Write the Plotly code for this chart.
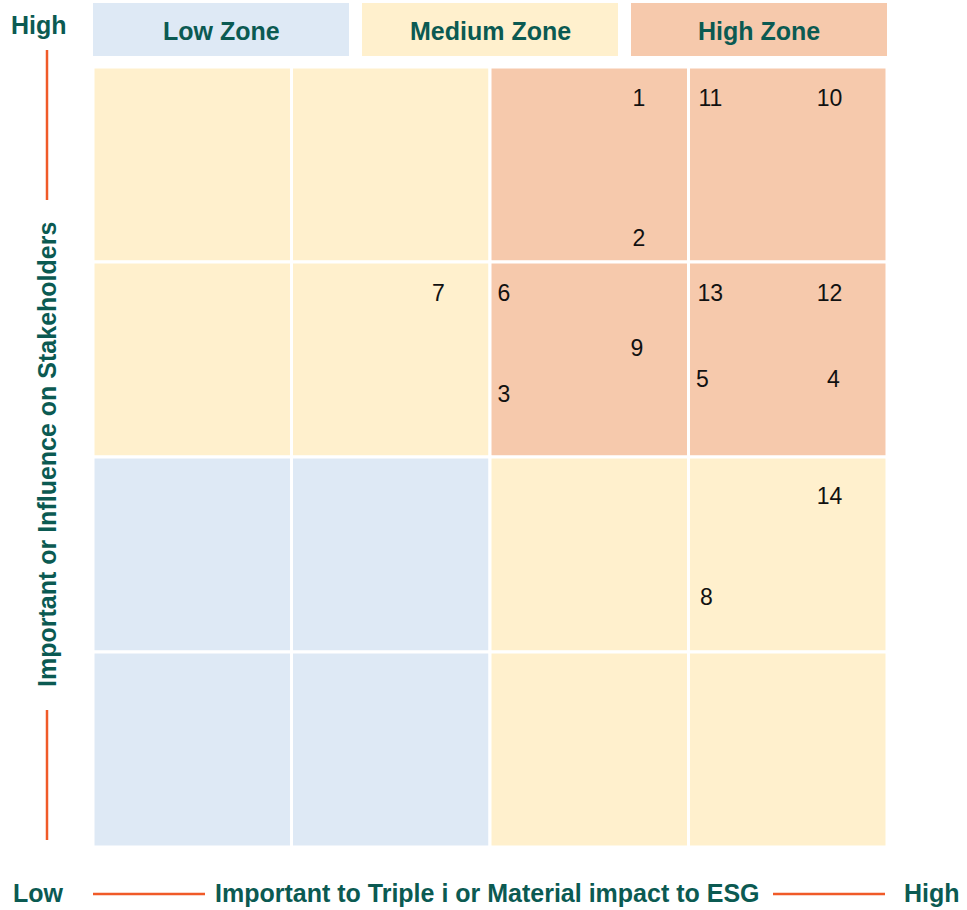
import plotly.graph_objects as go

# ---- data ----
issue_ids = ["1", "2", "3", "4", "5", "6", "7", "8", "9", "10", "11", "12", "13", "14"]
impact_x = [2.75, 2.75, 2.07, 3.73, 3.07, 2.07, 1.74, 3.09, 2.74, 3.71, 3.11, 3.71, 3.11, 3.71]
influence_y = [3.83, 3.11, 2.31, 2.39, 2.39, 2.83, 2.83, 1.27, 2.55, 3.83, 3.83, 2.83, 2.83, 1.79]

# zone grid, rows from top to bottom, columns left to right
zone_grid = [
    ["Medium", "Medium", "High", "High"],
    ["Medium", "Medium", "High", "High"],
    ["Low", "Low", "Medium", "Medium"],
    ["Low", "Low", "Medium", "Medium"],
]
zone_names = ["Low", "Medium", "High"]
zone_labels = ["Low Zone", "Medium Zone", "High Zone"]
zone_colors = {"Low": "#DEE9F5", "Medium": "#FFF0CD", "High": "#F6C9AC"}

x_title = "Important to Triple i or Material impact to ESG"
y_title = "Important or Influence on Stakeholders"

TEAL = "#0B5A52"
ORANGE = "#F05A28"
FONT = "Liberation Sans"

W, H = 967, 910
ML, MR, MT, MB = 93, 80, 67, 63
PW, PH = W - ML - MR, H - MT - MB


def px(x):
    return (x - ML) / PW


def py(y):
    return (H - MB - y) / PH


fig = go.Figure()

fig.add_trace(go.Scatter(
    x=impact_x, y=influence_y, text=issue_ids, mode="text",
    textposition="middle center",
    textfont=dict(family=FONT, size=23, color="#111111"),
    hoverinfo="text", showlegend=False,
))

shapes = []
n = len(zone_grid)
for r, row in enumerate(zone_grid):
    for c, z in enumerate(row):
        shapes.append(dict(
            type="rect", xref="x", yref="y", layer="below",
            x0=c, x1=c + 1, y0=n - r - 1, y1=n - r,
            fillcolor=zone_colors[z], line=dict(color="white", width=3),
        ))

annotations = []
# zone header boxes
bw = 256
gap = (PW - 3 * bw) / 2
for i, (zn, lab) in enumerate(zip(zone_names, zone_labels)):
    x0 = ML + i * (bw + gap)
    shapes.append(dict(type="rect", xref="paper", yref="paper",
                       x0=px(x0), x1=px(x0 + bw), y0=py(56), y1=py(3),
                       fillcolor=zone_colors[zn], line=dict(width=0)))
    annotations.append(dict(xref="paper", yref="paper", x=px(x0 + bw / 2), y=py(31),
                            text=lab, showarrow=False, xanchor="center", yanchor="middle",
                            font=dict(family=FONT, size=25, color=TEAL, weight="bold")))

# axis decorations
lw = 2.5
shapes += [
    dict(type="line", xref="paper", yref="paper", x0=px(47), x1=px(47), y0=py(50), y1=py(200),
         line=dict(color=ORANGE, width=lw)),
    dict(type="line", xref="paper", yref="paper", x0=px(47), x1=px(47), y0=py(710), y1=py(840),
         line=dict(color=ORANGE, width=lw)),
    dict(type="line", xref="paper", yref="paper", x0=px(93), x1=px(205), y0=py(894), y1=py(894),
         line=dict(color=ORANGE, width=lw)),
    dict(type="line", xref="paper", yref="paper", x0=px(773), x1=px(885), y0=py(894), y1=py(894),
         line=dict(color=ORANGE, width=lw)),
]

tf = dict(family=FONT, size=25, color=TEAL, weight="bold")
annotations += [
    dict(xref="paper", yref="paper", x=px(39), y=py(25), text="High", showarrow=False,
         xanchor="center", yanchor="middle", font=tf),
    dict(xref="paper", yref="paper", x=px(38), y=py(893), text="Low", showarrow=False,
         xanchor="center", yanchor="middle", font=tf),
    dict(xref="paper", yref="paper", x=px(932), y=py(893), text="High", showarrow=False,
         xanchor="center", yanchor="middle", font=tf),
    dict(xref="paper", yref="paper", x=px(487), y=py(893), text=x_title, showarrow=False,
         xanchor="center", yanchor="middle", font=tf),
    dict(xref="paper", yref="paper", x=px(47), y=py(455), text=y_title, showarrow=False,
         textangle=-90, xanchor="center", yanchor="middle", font=tf),
]

fig.update_layout(
    width=W, height=H,
    margin=dict(l=ML, r=MR, t=MT, b=MB),
    paper_bgcolor="white", plot_bgcolor="white",
    xaxis=dict(range=[0, 4], showgrid=False, zeroline=False, showticklabels=False, ticks="", fixedrange=True),
    yaxis=dict(range=[0, 4], showgrid=False, zeroline=False, showticklabels=False, ticks="", fixedrange=True),
    shapes=shapes, annotations=annotations, showlegend=False,
)

fig.write_html("out.html")
